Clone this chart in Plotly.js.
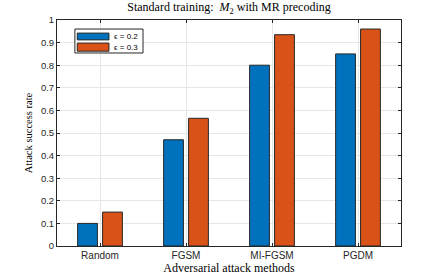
<!DOCTYPE html>
<html><head><meta charset="utf-8">
<script src="https://cdn.plot.ly/plotly-3.0.1.min.js"></script>
<style>html,body{margin:0;padding:0;background:#fff}#c{width:443px;height:277px}</style>
</head><body><div id="c"></div>
<script>
var categories = ["Random", "FGSM", "MI-FGSM", "PGDM"];
var eps02 = [0.10, 0.47, 0.80, 0.85];
var eps03 = [0.15, 0.565, 0.935, 0.96];
var seriesNames = ["\u03f5 = 0.2", "\u03f5 = 0.3"];
var seriesColors = ["#0072BD", "#D95319"];
var yTicks = [0,0.1,0.2,0.3,0.4,0.5,0.6,0.7,0.8,0.9,1];
var yTickText = ["0","0.1","0.2","0.3","0.4","0.5","0.6","0.7","0.8","0.9","1"];

var idx = categories.map(function(_, i){ return i; });
var edge = {color: "#262626", width: 1};
var traces = [
  {type: "bar", x: idx, y: eps02, name: seriesNames[0], width: 0.23, offset: -0.26,
   marker: {color: seriesColors[0], line: edge}},
  {type: "bar", x: idx, y: eps03, name: seriesNames[1], width: 0.23, offset: 0.03,
   marker: {color: seriesColors[1], line: edge}}
];
var serif = "Liberation Serif, DejaVu Serif, serif";
var sans = "Liberation Sans, Arial, sans-serif";

// custom compact legend (paper coordinates)
var shapes = [
  {type: "rect", xref: "paper", yref: "paper", x0: 0.052, x1: 0.250, y0: 0.854, y1: 0.960,
   fillcolor: "#fff", line: {color: "#262626", width: 1}, layer: "above"}
];
var annotations = [];
var rows = [[0.942, 0.912], [0.898, 0.862]];
for (var k = 0; k < 2; k++) {
  shapes.push({type: "rect", xref: "paper", yref: "paper", x0: 0.059, x1: 0.151,
    y0: rows[k][1], y1: rows[k][0], fillcolor: seriesColors[k],
    line: {color: "#262626", width: 1}, layer: "above"});
  annotations.push({xref: "paper", yref: "paper", x: 0.160, y: (rows[k][0] + rows[k][1]) / 2,
    xanchor: "left", yanchor: "middle", showarrow: false, text: seriesNames[k],
    font: {family: sans, size: 8, color: "#000"}});
}

var layout = {
  width: 443, height: 277,
  margin: {l: 57, r: 42, t: 20, b: 31},
  paper_bgcolor: "#fff", plot_bgcolor: "#fff",
  showlegend: false,
  shapes: shapes, annotations: annotations,
  title: {text: "Standard training:  <i>M</i><sub>2</sub> with MR precoding",
          font: {family: serif, size: 12, color: "#000"},
          x: 0.5, xanchor: "center", xref: "paper", y: 0.99, yanchor: "top"},
  xaxis: {range: [-0.5, 3.5], tickvals: idx, ticktext: categories,
          showgrid: true, gridcolor: "#e6e6e6", gridwidth: 1,
          ticks: "inside", ticklen: 3, tickcolor: "#262626",
          showline: true, linecolor: "#262626", linewidth: 1, mirror: "ticks",
          tickfont: {family: sans, size: 10, color: "#262626"},
          zeroline: false,
          title: {text: "Adversarial attack methods", font: {family: serif, size: 12, color: "#000"}, standoff: 1}},
  yaxis: {range: [0, 1], tickvals: yTicks, ticktext: yTickText,
          showgrid: true, gridcolor: "#e6e6e6", gridwidth: 1,
          ticks: "inside", ticklen: 3, tickcolor: "#262626",
          showline: true, linecolor: "#262626", linewidth: 1, mirror: "ticks",
          tickfont: {family: sans, size: 9.5, color: "#262626"},
          zeroline: false,
          title: {text: "Attack success rate", font: {family: serif, size: 10.5, color: "#000"}, standoff: 6}},
  bargap: 0
};
Plotly.newPlot("c", traces, layout, {displayModeBar: false, staticPlot: true});
</script></body></html>
